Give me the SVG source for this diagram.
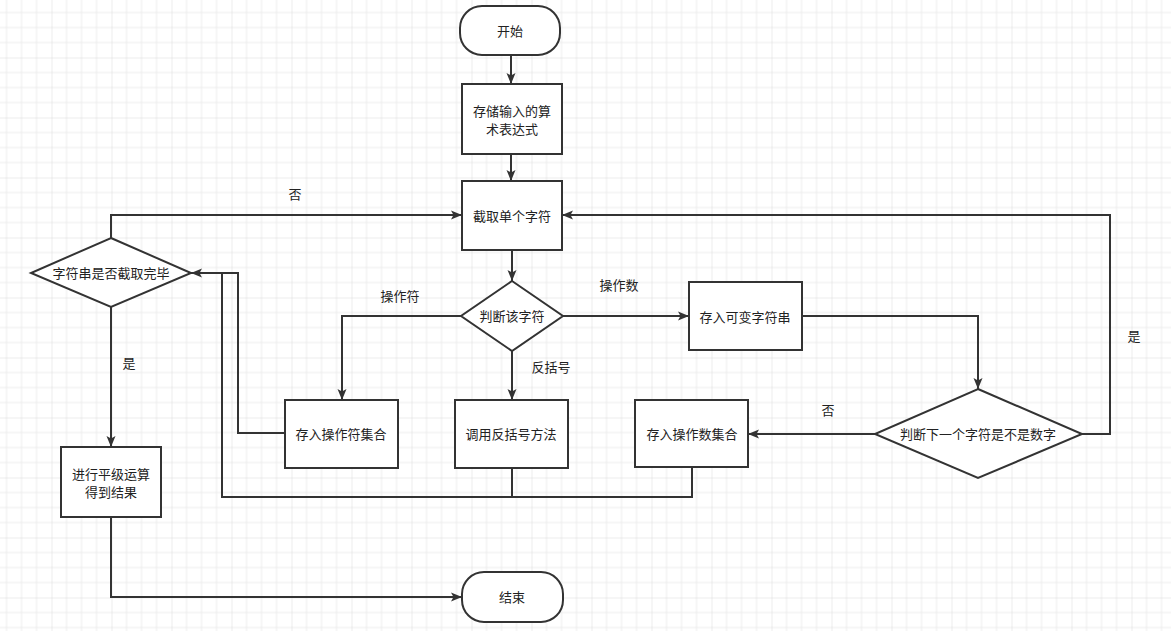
<svg xmlns="http://www.w3.org/2000/svg" width="1171" height="631" viewBox="0 0 1171 631">
<style>
.n{fill:#fff;stroke:#333;stroke-width:2}
.t{font-family:"Liberation Sans","Noto Sans CJK SC",sans-serif;font-size:13px;fill:#222;text-anchor:middle;dominant-baseline:central}
.e{fill:none;stroke:#333;stroke-width:2}
.a{marker-end:url(#ah)}
</style>
<defs>
<pattern id="grid" patternUnits="userSpaceOnUse" x="51.5" y="57.5" width="60" height="60">
<path d="M15,0V60M30,0V60M45,0V60M0,15H60M0,30H60M0,45H60" stroke="#ececec" stroke-width="1" fill="none"/>
<path d="M0,0V60M0,0H60" stroke="#dadada" stroke-width="1" fill="none"/>
</pattern>
<marker id="ah" markerUnits="userSpaceOnUse" markerWidth="12" markerHeight="10" refX="11" refY="5" orient="auto">
<path d="M0,0.5 L11,5 L0,9.5 L2.5,5 Z" fill="#333"/>
</marker>
</defs>
<rect width="1171" height="631" fill="#fff"/>
<rect width="1171" height="631" fill="url(#grid)"/>
<g id="connectors">
<path class="e a" d="M511,55V84"/>
<path class="e a" d="M511,154V181"/>
<path class="e a" d="M512,250V281"/>
<path class="e a" d="M461,316H342V400"/>
<path class="e a" d="M512,351V400"/>
<path class="e a" d="M563,316H689"/>
<path class="e a" d="M802,316H978V389"/>
<path class="e a" d="M875,434H748"/>
<path class="e a" d="M1082,434H1110V215H562"/>
<path class="e a" d="M285,433H238V273H191"/>
<path class="e" d="M692,467V497H222V273H238"/>
<path class="e" d="M512,468V497"/>
<path class="e a" d="M111,238V215H462"/>
<path class="e a" d="M111,307V447"/>
<path class="e a" d="M111,517V597H462"/>
<text class="t" x="295" y="194">否</text>
<text class="t" x="129" y="363">是</text>
<text class="t" x="400" y="296">操作符</text>
<text class="t" x="619" y="285">操作数</text>
<text class="t" x="551" y="367">反括号</text>
<text class="t" x="828" y="410">否</text>
<text class="t" x="1134" y="336">是</text>
</g>
<g id="start"><rect class="n" x="460" y="6" width="100" height="49" rx="22"/><text class="t" x="510" y="31">开始</text></g>
<g id="store-expr"><rect class="n" x="462" y="84" width="100" height="70"/><text class="t" x="512" y="111">存储输入的算</text><text class="t" x="512" y="129">术表达式</text></g>
<g id="take-char"><rect class="n" x="462" y="181" width="100" height="69"/><text class="t" x="512" y="216">截取单个字符</text></g>
<g id="judge-char"><path class="n" d="M512,281L563,316L512,351L461,316Z"/><text class="t" x="512" y="316">判断该字符</text></g>
<g id="store-str"><rect class="n" x="689" y="282" width="113" height="68"/><text class="t" x="745" y="317">存入可变字符串</text></g>
<g id="judge-next"><path class="n" d="M978,389L1082,434L978,478L875,434Z"/><text class="t" x="978" y="434">判断下一个字符是不是数字</text></g>
<g id="store-num"><rect class="n" x="635" y="400" width="113" height="67"/><text class="t" x="692" y="434">存入操作数集合</text></g>
<g id="call-bracket"><rect class="n" x="455" y="400" width="113" height="68"/><text class="t" x="511" y="434">调用反括号方法</text></g>
<g id="store-op"><rect class="n" x="285" y="400" width="113" height="68"/><text class="t" x="341" y="434">存入操作符集合</text></g>
<g id="judge-done"><path class="n" d="M111,238L191,273L111,307L31,273Z"/><text class="t" x="111" y="273">字符串是否截取完毕</text></g>
<g id="compute"><rect class="n" x="61" y="447" width="100" height="70"/><text class="t" x="111" y="474">进行平级运算</text><text class="t" x="111" y="492">得到结果</text></g>
<g id="end"><rect class="n" x="462" y="572" width="101" height="50" rx="22"/><text class="t" x="512" y="597">结束</text></g>
</svg>
